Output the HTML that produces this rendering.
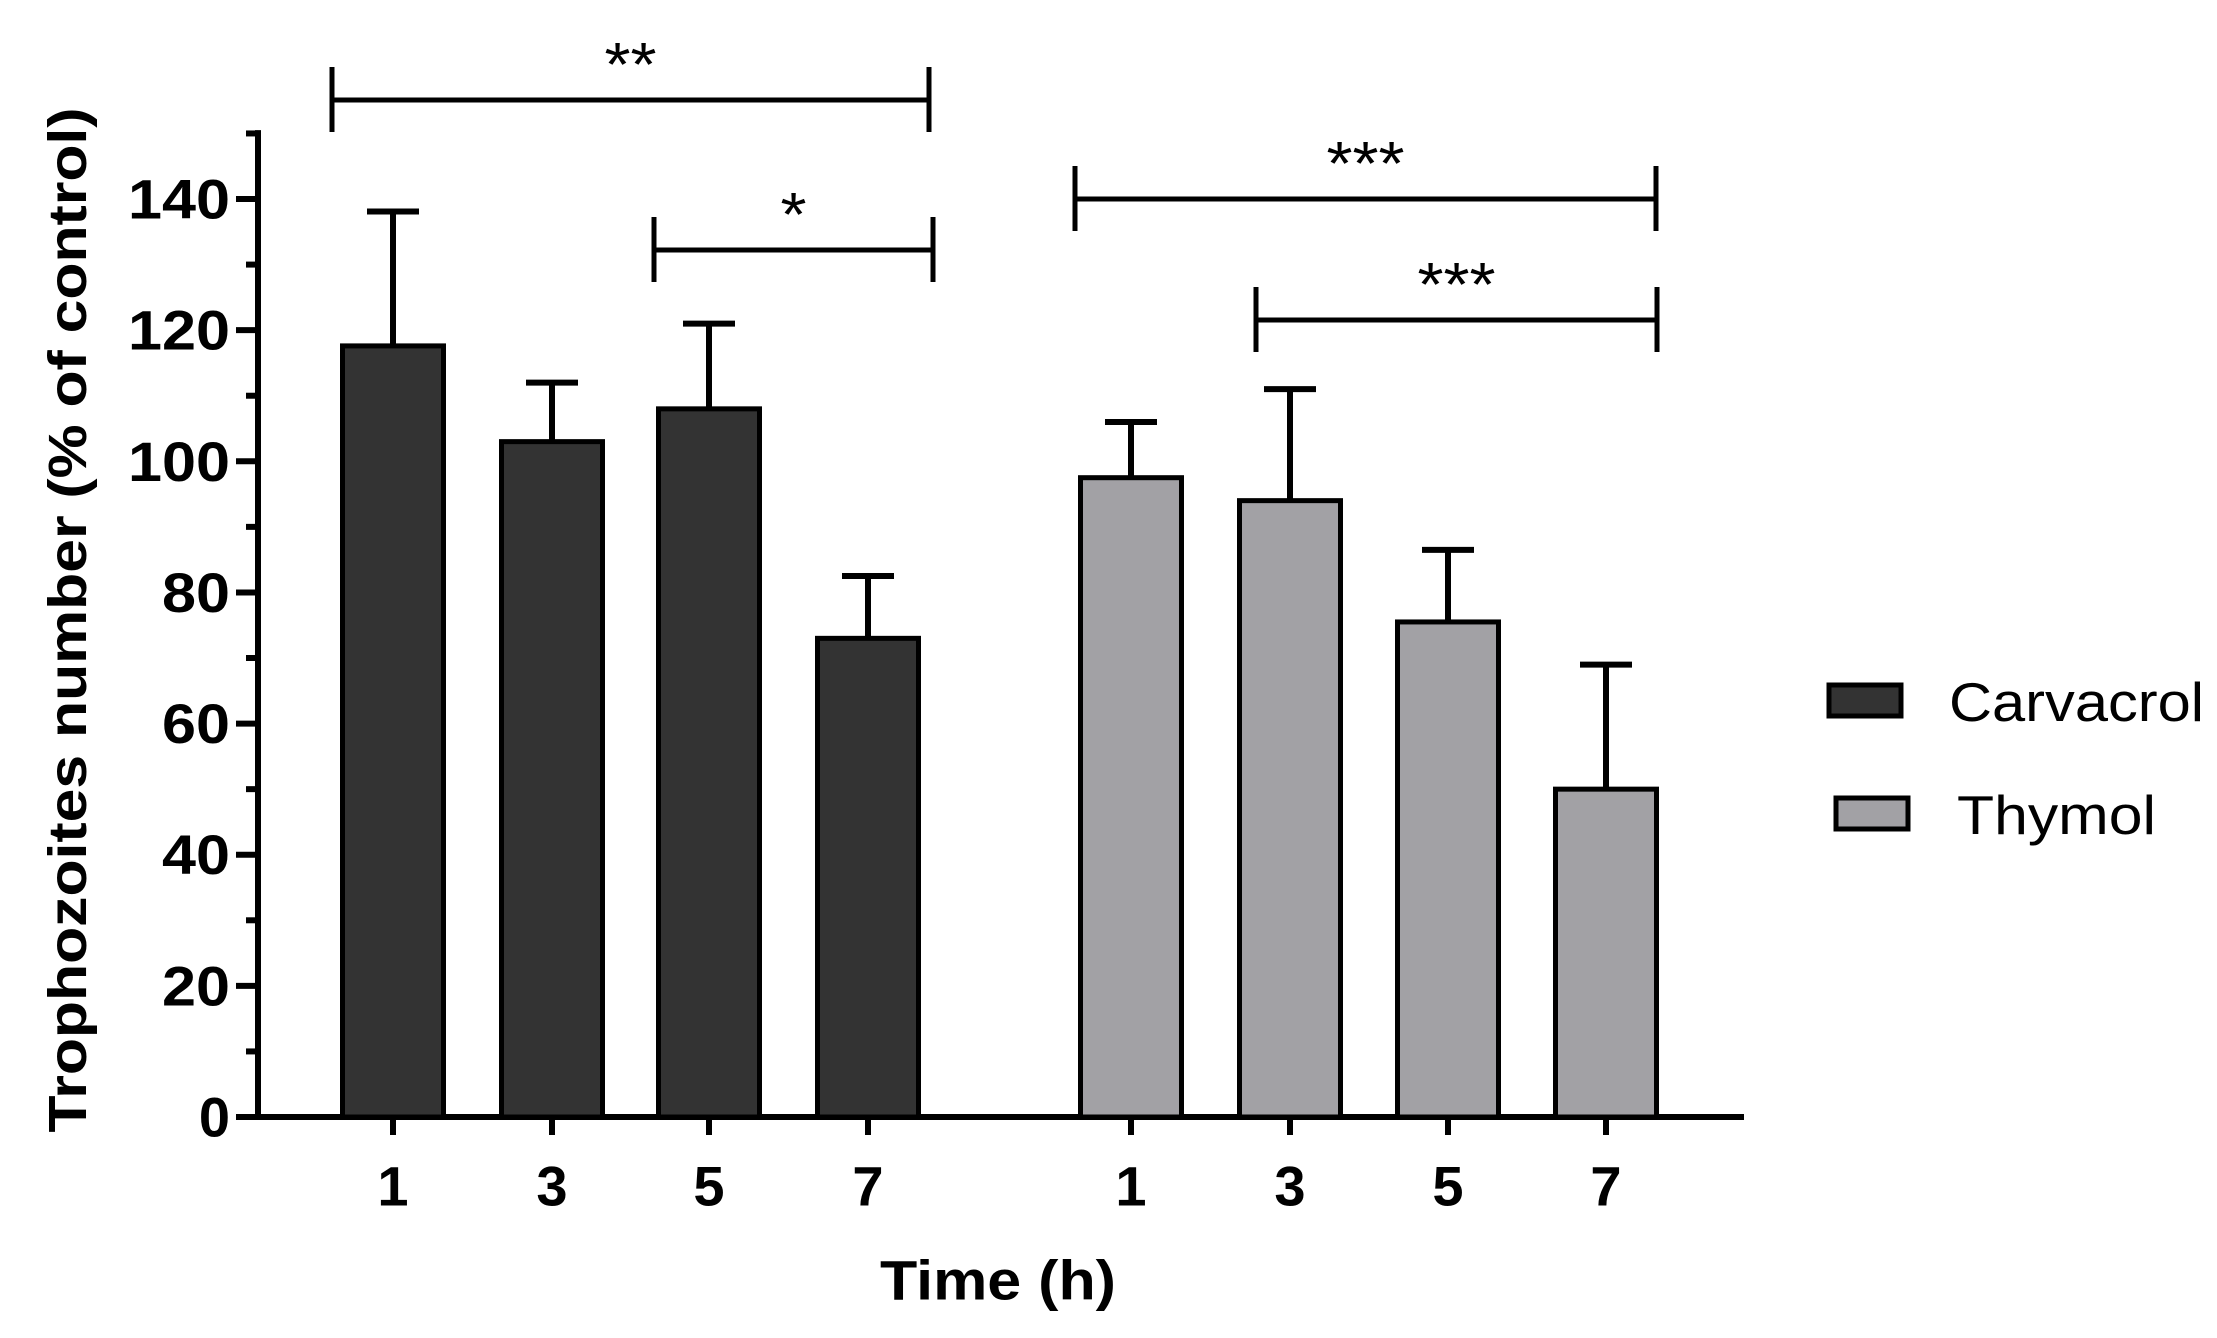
<!DOCTYPE html>
<html><head><meta charset="utf-8"><style>
html,body{margin:0;padding:0;background:#fff;width:2217px;height:1338px;overflow:hidden}
svg{display:block;font-family:"Liberation Sans",Arial,sans-serif}
</style></head><body>
<svg id="chart" width="2217" height="1338" viewBox="0 0 2217 1338">
<g id="axes"></g><g id="bars"></g><g id="ann"></g>
<text x="68" y="620" transform="rotate(-90 68 620)" text-anchor="middle" font-size="54" font-weight="bold" dominant-baseline="central" textLength="1025" lengthAdjust="spacingAndGlyphs">Trophozoites number (% of control)</text>
<text x="998" y="1280" text-anchor="middle" font-size="56" font-weight="bold" dominant-baseline="central" textLength="236" lengthAdjust="spacingAndGlyphs">Time (h)</text>
<g>
<rect x="1829" y="685" width="72" height="31" fill="#333" stroke="#000" stroke-width="5"/>
<text x="1949" y="702" font-size="55" dominant-baseline="central" textLength="255" lengthAdjust="spacingAndGlyphs">Carvacrol</text>
<rect x="1836" y="798" width="72" height="31" fill="#a2a1a5" stroke="#000" stroke-width="5"/>
<text x="1957" y="815" font-size="55" dominant-baseline="central" textLength="199" lengthAdjust="spacingAndGlyphs">Thymol</text>
</g>
</svg>
<script>
const categories = ["1","3","5","7"];
const carvacrolValues = [117.6, 103, 108, 73];
const carvacrolErrors = [20.5, 9, 13, 9.5];
const thymolValues = [97.5, 94, 75.5, 50];
const thymolErrors = [8.5, 17, 11, 19];
const yTicks = [0,20,40,60,80,100,120,140];
const ns="http://www.w3.org/2000/svg";
const y0=1117, pxPer=6.557;
function y(v){return y0 - v*pxPer;}
const groupX={carvacrol:[393,552,709,868], thymol:[1131,1290,1448,1606]};
function el(t,a,p){const e=document.createElementNS(ns,t);for(const k in a)e.setAttribute(k,a[k]);p.appendChild(e);return e;}
const axes=document.getElementById('axes'), bars=document.getElementById('bars'), ann=document.getElementById('ann');
let ax=el('line',{x1:258,y1:y(150.5),x2:258,y2:y0+3,stroke:'#000','stroke-width':6},axes);


let xl=el('line',{x1:236,y1:y0,x2:1744,y2:y0,stroke:'#000','stroke-width':6},axes);


for(let v=0;v<=150;v+=10){
  const major=v%20===0;
  const t=el('line',{x1:major?236:246,y1:y(v),x2:258,y2:y(v),stroke:'#000','stroke-width':6},axes);
  
  
}
yTicks.forEach(v=>{
  const s=String(v);
  const attrs={x:230,y:y(v),'text-anchor':'end','dominant-baseline':'central','font-size':56,'font-weight':'bold'};
  if(s.length>1){attrs.textLength=s.length*34;attrs.lengthAdjust='spacingAndGlyphs';}
  const t=el('text',attrs,axes);
  t.textContent=s;
  
  
});
function series(name,vals,errs,xs,fill){
  vals.forEach((v,i)=>{
    const cx=xs[i], w=101;
    const e=el('line',{x1:cx,y1:y(v),x2:cx,y2:y(v+errs[i]),stroke:'#000','stroke-width':6},bars);
    
    
    const c=el('line',{x1:cx-26,y1:y(v+errs[i]),x2:cx+26,y2:y(v+errs[i]),stroke:'#000','stroke-width':6},bars);
    
    
    const r=el('rect',{x:cx-w/2,y:y(v),width:w,height:y0-y(v),fill:fill,stroke:'#000','stroke-width':5},bars);
    
    
    const tk=el('line',{x1:cx,y1:y0,x2:cx,y2:y0+18,stroke:'#000','stroke-width':6},axes);
    
    
    const tl=el('text',{x:cx,y:1186,'text-anchor':'middle','dominant-baseline':'central','font-size':56,'font-weight':'bold'},axes);
    tl.textContent=categories[i];
    
    
  });
}
series('carvacrol',carvacrolValues,carvacrolErrors,groupX.carvacrol,'#333333');
series('thymol',thymolValues,thymolErrors,groupX.thymol,'#a2a1a5');
function bracket(x1,x2,yy,label,ty){
  const g=el('g',{},ann);
  
  
  el('line',{x1:x1,y1:yy,x2:x2,y2:yy,stroke:'#000','stroke-width':5},g);
  el('line',{x1:x1,y1:yy-33,x2:x1,y2:yy+32,stroke:'#000','stroke-width':5},g);
  el('line',{x1:x2,y1:yy-33,x2:x2,y2:yy+32,stroke:'#000','stroke-width':5},g);
  const t=el('text',{x:(x1+x2)/2,y:ty,'text-anchor':'middle','font-size':62,textLength:label.length*26,lengthAdjust:'spacingAndGlyphs'},g);
  t.textContent=label;
}
bracket(332,929,100,'**',86);
bracket(654,933,250,'*',236);
bracket(1075,1656,199,'***',185);
bracket(1256,1657,320,'***',306);
</script>
</body></html>
